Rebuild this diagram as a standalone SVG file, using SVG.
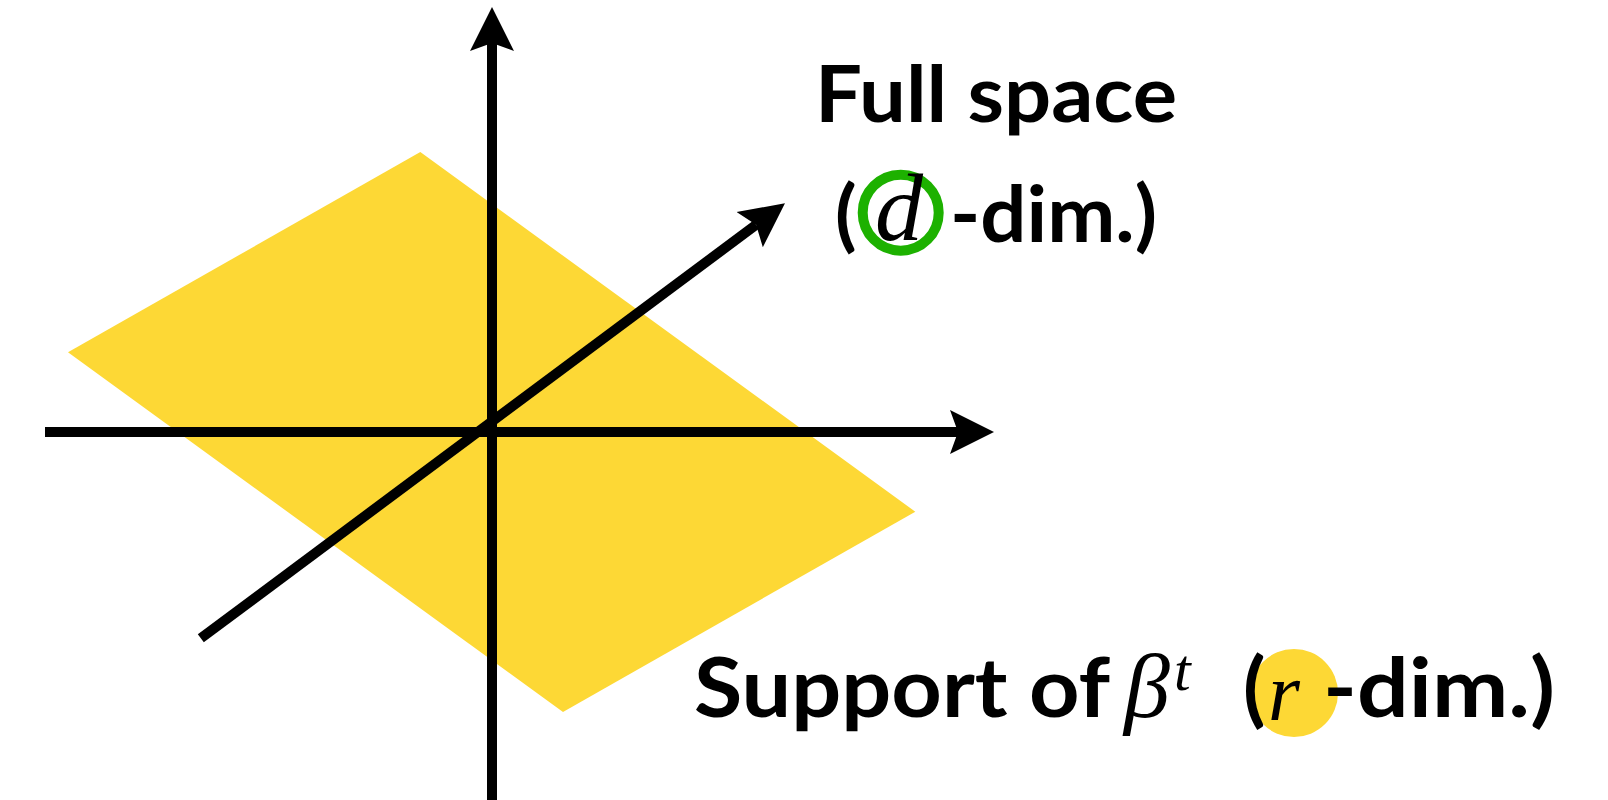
<svg xmlns="http://www.w3.org/2000/svg" width="1608" height="800" viewBox="0 0 1608 800">
<defs>
<marker id="ah" viewBox="0 -23 46 46" markerWidth="46" markerHeight="46" refX="8" refY="0" markerUnits="userSpaceOnUse" orient="auto">
<path d="M0,-22 L44,0 L0,22 L8,0 Z" fill="#000"/>
</marker>
<style>
.ax{stroke:#000;stroke-width:10;fill:none;marker-end:url(#ah)}
.sans{font-family:Lato,"Open Sans","Liberation Sans",sans-serif;font-weight:700;fill:#000}
.math{font-family:"Liberation Serif","DejaVu Serif",serif;font-style:italic;fill:#000}
</style>
</defs>
<rect width="1608" height="800" fill="#fff"/>
<g id="plane">
<polygon points="420.3,152 68,352.3 563,712 915.3,511.7" fill="#FDD835"/>
</g>
<g id="connectors">
<line class="ax" x1="492" y1="800" x2="492" y2="43"/>
<line class="ax" x1="45" y1="432" x2="958" y2="432"/>
<line class="ax" x1="200.8" y1="638.3" x2="756.1" y2="224.8"/>
</g>
<g id="label-full">
<text class="sans" x="815" y="122" font-size="79" textLength="362" lengthAdjust="spacingAndGlyphs">Full space</text>
<circle cx="900.7" cy="212.7" r="38" fill="none" stroke="#1DB100" stroke-width="10"/>
<text class="sans" x="835" y="242" font-size="79">(</text>
<text class="math" x="875" y="240" font-size="96">d</text>
<text class="sans" x="950" y="242" font-size="79" textLength="207" lengthAdjust="spacingAndGlyphs">-dim.)</text>
</g>
<g id="label-support">
<circle cx="1294" cy="693" r="44" fill="#FDD835"/>
<text class="sans" x="694" y="717" font-size="82" textLength="416" lengthAdjust="spacingAndGlyphs">Support of</text>
<text class="math" x="1124" y="717" font-size="92">β</text>
<text class="math" x="1174" y="690" font-size="60">t</text>
<text class="sans" x="1243" y="717" font-size="82">(</text>
<text class="math" x="1268" y="720" font-size="82">r</text>
<text class="sans" x="1323" y="717" font-size="82" textLength="232" lengthAdjust="spacingAndGlyphs">-dim.)</text>
</g>
</svg>
